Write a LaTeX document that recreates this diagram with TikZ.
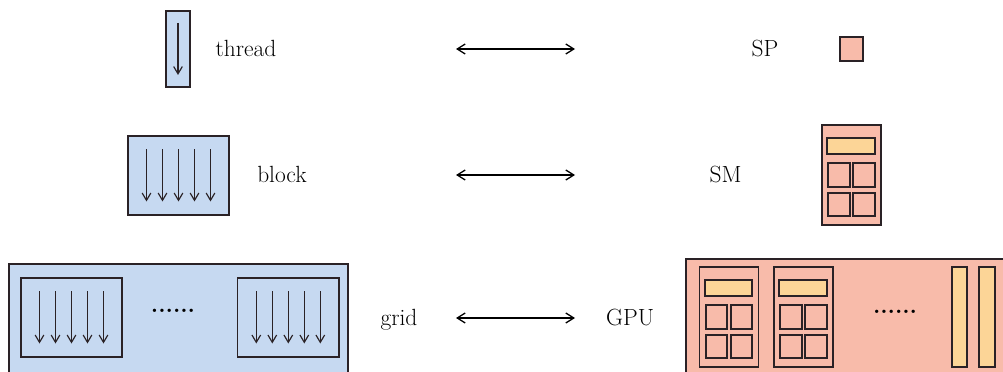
\documentclass[tikz,border=0pt]{standalone}
\usetikzlibrary{arrows.meta,positioning,calc}
\usepackage{xcolor}
\definecolor{threadblue}{RGB}{198,217,241}
\definecolor{smpink}{RGB}{248,187,170}
\definecolor{spyellow}{RGB}{252,213,151}
\definecolor{edgegray}{RGB}{42,34,38}

\begin{document}
\begin{tikzpicture}[x=0.03cm,y=-0.03cm]
      \tikzstyle{label} = [font=\fontsize{20}{24}\selectfont, inner sep=0pt, anchor=base]
      \tikzstyle{soft} = [rectangle, draw=edgegray, line width=1.5pt, fill=threadblue, inner sep=0pt]
      \tikzstyle{hard} = [rectangle, draw=edgegray, line width=1.5pt, fill=smpink, inner sep=0pt]
      \tikzstyle{cache} = [rectangle, draw=edgegray, line width=1.5pt, fill=spyellow, inner sep=0pt]
      \tikzstyle{flow} = [-{Straight Barb[length=2.2mm,width=2.6mm]}, line width=1pt, draw=edgegray]
      \tikzstyle{map} = [{Straight Barb[length=2.4mm,width=3mm]}-{Straight Barb[length=2.4mm,width=3mm]}, line width=1.1pt]

      \clip (0,0) rectangle (1003,372);

      % software side
      \node[soft, minimum width=0.72cm, minimum height=2.28cm] (thr) at (178,49) {};
      \node[soft, minimum width=3.05cm, minimum height=2.38cm] (blk) at (178.5,175.5) {};
      \node[soft, minimum width=10.17cm, minimum height=3.48cm] (grd) at (178.5,322) {};
      \node[soft, minimum width=3.05cm, minimum height=2.38cm] (gb1) at (71.5,317.5) {};
      \node[soft, minimum width=3.05cm, minimum height=2.38cm] (gb2) at (288.3,317.5) {};
      \node[font=\fontsize{20}{24}\selectfont\bfseries] (gdots) at (173,311) {......};

      \draw[flow] ($(thr.center)+(0,-26)$) -- ($(thr.center)+(0,26)$);
      \foreach \b in {blk,gb1,gb2}
        \foreach \dx in {-32,-16,0,16,32}
          \draw[flow] ($(\b.center)+(\dx,-26)$) -- ($(\b.center)+(\dx,26)$);

      \node[label] (lthr) at (246,57) {thread};
      \node[label] (lblk) at (282,183) {block};
      \node[label] (lgrd) at (399,325) {grid};

      % hardware side
      \node[label] (lsp) at (765,57) {SP};
      \node[label] (lsm) at (725.5,183) {SM};
      \node[label] (lgpu) at (630,325) {GPU};

      \node[hard, minimum width=0.68cm, minimum height=0.7cm] (sp) at (851.5,49) {};
      \node[hard, minimum width=10.02cm, minimum height=3.78cm] (gpu) at (853,322) {};

      \foreach \n/\cx/\cy in {sm/851.5/175, gsm1/729/317, gsm2/803.5/317} {
        \begin{scope}[shift={(\cx,\cy)}]
          \node[hard, minimum width=1.77cm, minimum height=3.0cm] (\n) at (0,0) {};
          \node[cache, minimum width=1.42cm, minimum height=0.5cm] (\n-bar) at (-0.5,-29) {};
          \foreach \i/\dx/\dy in {1/-12.5/0, 2/12.5/0, 3/-12.5/29.5, 4/12.5/29.5}
            \node[hard, minimum width=0.65cm, minimum height=0.7cm] (\n-sp\i) at (\dx,\dy) {};
        \end{scope}
      }
      \node[font=\fontsize{20}{24}\selectfont\bfseries] (hdots) at (895,312) {......};
      \node[cache, minimum width=0.47cm, minimum height=3.02cm] (reg1) at (959.5,317) {};
      \node[cache, minimum width=0.47cm, minimum height=3.02cm] (reg2) at (987,317) {};

      % mapping arrows
      \coordinate (m1l) at (456,49);   \coordinate (m1r) at (575,49);
      \coordinate (m2l) at (456,175);  \coordinate (m2r) at (575,175);
      \coordinate (m3l) at (456,318);  \coordinate (m3r) at (575,318);
      \draw[map] (m1l) -- (m1r);
      \draw[map] (m2l) -- (m2r);
      \draw[map] (m3l) -- (m3r);
    \end{tikzpicture}
\end{document}
